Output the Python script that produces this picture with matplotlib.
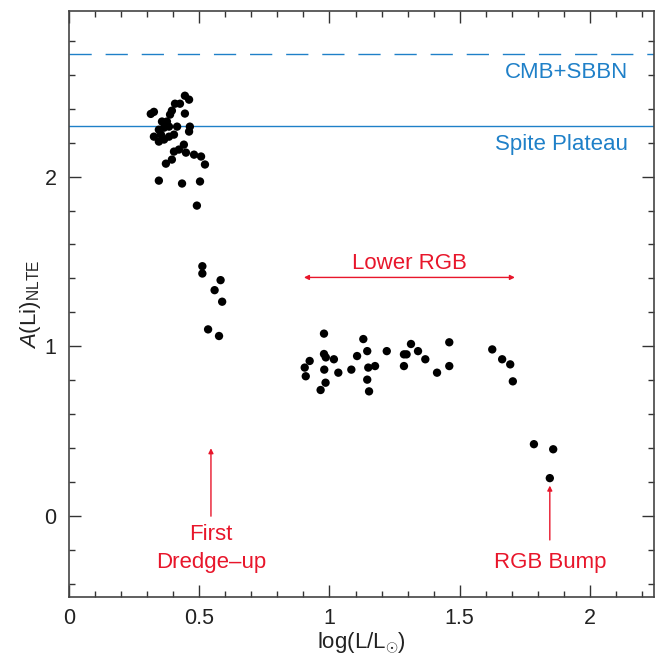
import matplotlib
matplotlib.use("Agg")
import matplotlib.pyplot as plt
from matplotlib.ticker import MultipleLocator

plt.rcParams['font.family'] = ['Liberation Sans', 'DejaVu Sans']
plt.rcParams['mathtext.fontset'] = 'custom'
plt.rcParams['mathtext.rm'] = 'Liberation Sans'
plt.rcParams['mathtext.it'] = 'Liberation Sans:italic'
plt.rcParams['mathtext.sf'] = 'Liberation Sans'

# ---- data: log(L/Lsun), A(Li)_NLTE ----
logL_plateau = [0.445, 0.461, 0.407, 0.426, 0.395, 0.314, 0.326, 0.388, 0.445,
                0.357, 0.376, 0.365, 0.384, 0.345, 0.464, 0.461, 0.415, 0.326,
                0.353, 0.384, 0.403, 0.345, 0.365, 0.441, 0.422, 0.403, 0.449,
                0.480, 0.507, 0.395, 0.372, 0.522, 0.345, 0.434, 0.503, 0.491]
ALi_plateau = [2.476, 2.453, 2.429, 2.429, 2.388, 2.369, 2.381, 2.365, 2.371,
               2.324, 2.324, 2.288, 2.294, 2.276, 2.294, 2.265, 2.294, 2.235,
               2.247, 2.235, 2.247, 2.206, 2.218, 2.188, 2.159, 2.147, 2.141,
               2.129, 2.118, 2.100, 2.076, 2.071, 1.976, 1.959, 1.971, 1.829]

logL_fdu = [0.512, 0.512, 0.582, 0.559, 0.588, 0.534, 0.576]
ALi_fdu = [1.472, 1.429, 1.390, 1.331, 1.263, 1.100, 1.061]

logL_lrgb = [0.979, 0.924, 0.905, 0.909, 0.979, 0.986, 1.017, 0.980, 1.034,
             0.985, 0.966, 1.130, 1.106, 1.145, 1.084, 1.149, 1.175, 1.145,
             1.152, 1.220, 1.286, 1.296, 1.313, 1.340, 1.286, 1.368, 1.413,
             1.460, 1.460, 1.625, 1.663, 1.694, 1.704]
ALi_lrgb = [1.075, 0.914, 0.875, 0.824, 0.955, 0.935, 0.924, 0.863, 0.845,
            0.786, 0.743, 1.043, 0.943, 0.972, 0.863, 0.875, 0.884, 0.804,
            0.735, 0.972, 0.953, 0.953, 1.014, 0.972, 0.884, 0.924, 0.845,
            1.024, 0.884, 0.982, 0.924, 0.894, 0.794]

logL_bump = [1.785, 1.859, 1.846]
ALi_bump = [0.424, 0.394, 0.224]

cmb_sbbn = 2.72
spite = 2.30

blue = '#1f80c8'
red = '#e8162b'

fig = plt.figure(figsize=(6.55, 6.56), dpi=100)
ax = fig.add_axes([69/655, 59/656, 585/655, 586/656])

for xs, ys in [(logL_plateau, ALi_plateau), (logL_fdu, ALi_fdu),
               (logL_lrgb, ALi_lrgb), (logL_bump, ALi_bump)]:
    ax.scatter(xs, ys, s=36, color='black', edgecolors='none', zorder=3)

ax.axhline(cmb_sbbn, color=blue, lw=1.0, dashes=(16, 10))
ax.axhline(spite, color=blue, lw=1.0)
ax.text(2.146, 2.612, 'CMB+SBBN', color=blue, fontsize=16, ha='right', va='center')
ax.text(2.146, 2.188, 'Spite Plateau', color=blue, fontsize=16, ha='right', va='center')

ax.annotate('', xy=(0.902, 1.406), xytext=(1.712, 1.406),
            arrowprops=dict(arrowstyle='<|-|>', color=red, lw=1.0,
                            mutation_scale=7, shrinkA=0, shrinkB=0))
ax.text(1.307, 1.49, 'Lower RGB', color=red, fontsize=16, ha='center', va='center')

ax.annotate('', xy=(0.545, 0.40), xytext=(0.545, 0.0),
            arrowprops=dict(arrowstyle='-|>', color=red, lw=1.0,
                            mutation_scale=7, shrinkA=0, shrinkB=0))
ax.text(0.545, -0.11, 'First', color=red, fontsize=16, ha='center', va='center')
ax.text(0.545, -0.27, 'Dredge\u2013up', color=red, fontsize=16, ha='center', va='center')

ax.annotate('', xy=(1.846, 0.18), xytext=(1.846, -0.14),
            arrowprops=dict(arrowstyle='-|>', color=red, lw=1.0,
                            mutation_scale=7, shrinkA=0, shrinkB=0))
ax.text(1.846, -0.275, 'RGB Bump', color=red, fontsize=16, ha='center', va='center')

ax.set_xlim(0, 2.246)
ax.set_ylim(-0.476, 2.975)
ax.xaxis.set_minor_locator(MultipleLocator(0.1))
ax.yaxis.set_minor_locator(MultipleLocator(0.2))
ax.set_xticks([0, 0.5, 1, 1.5, 2])
ax.set_xticklabels(['0', '0.5', '1', '1.5', '2'])
ax.set_yticks([0, 1, 2])
ax.set_yticklabels(['0', '1', '2'])

ax.tick_params(which='both', direction='in', top=True, right=True,
               color='#333333', width=1.0, labelsize=15.5, labelcolor='#222222')
ax.tick_params(which='major', length=8.5)
ax.tick_params(which='minor', length=4.2)
ax.tick_params(axis='x', pad=8)
ax.tick_params(axis='y', pad=9)
for s in ax.spines.values():
    s.set_color('#444444')
    s.set_linewidth(1.2)

ax.set_xlabel(r'log(L/L$_{\odot}$)', fontsize=16, labelpad=1, color='#222222')
ax.set_ylabel(r'$A$(Li)$_{\mathrm{NLTE}}$', fontsize=16, labelpad=1, color='#222222')

fig.savefig('out.png', dpi=100)
